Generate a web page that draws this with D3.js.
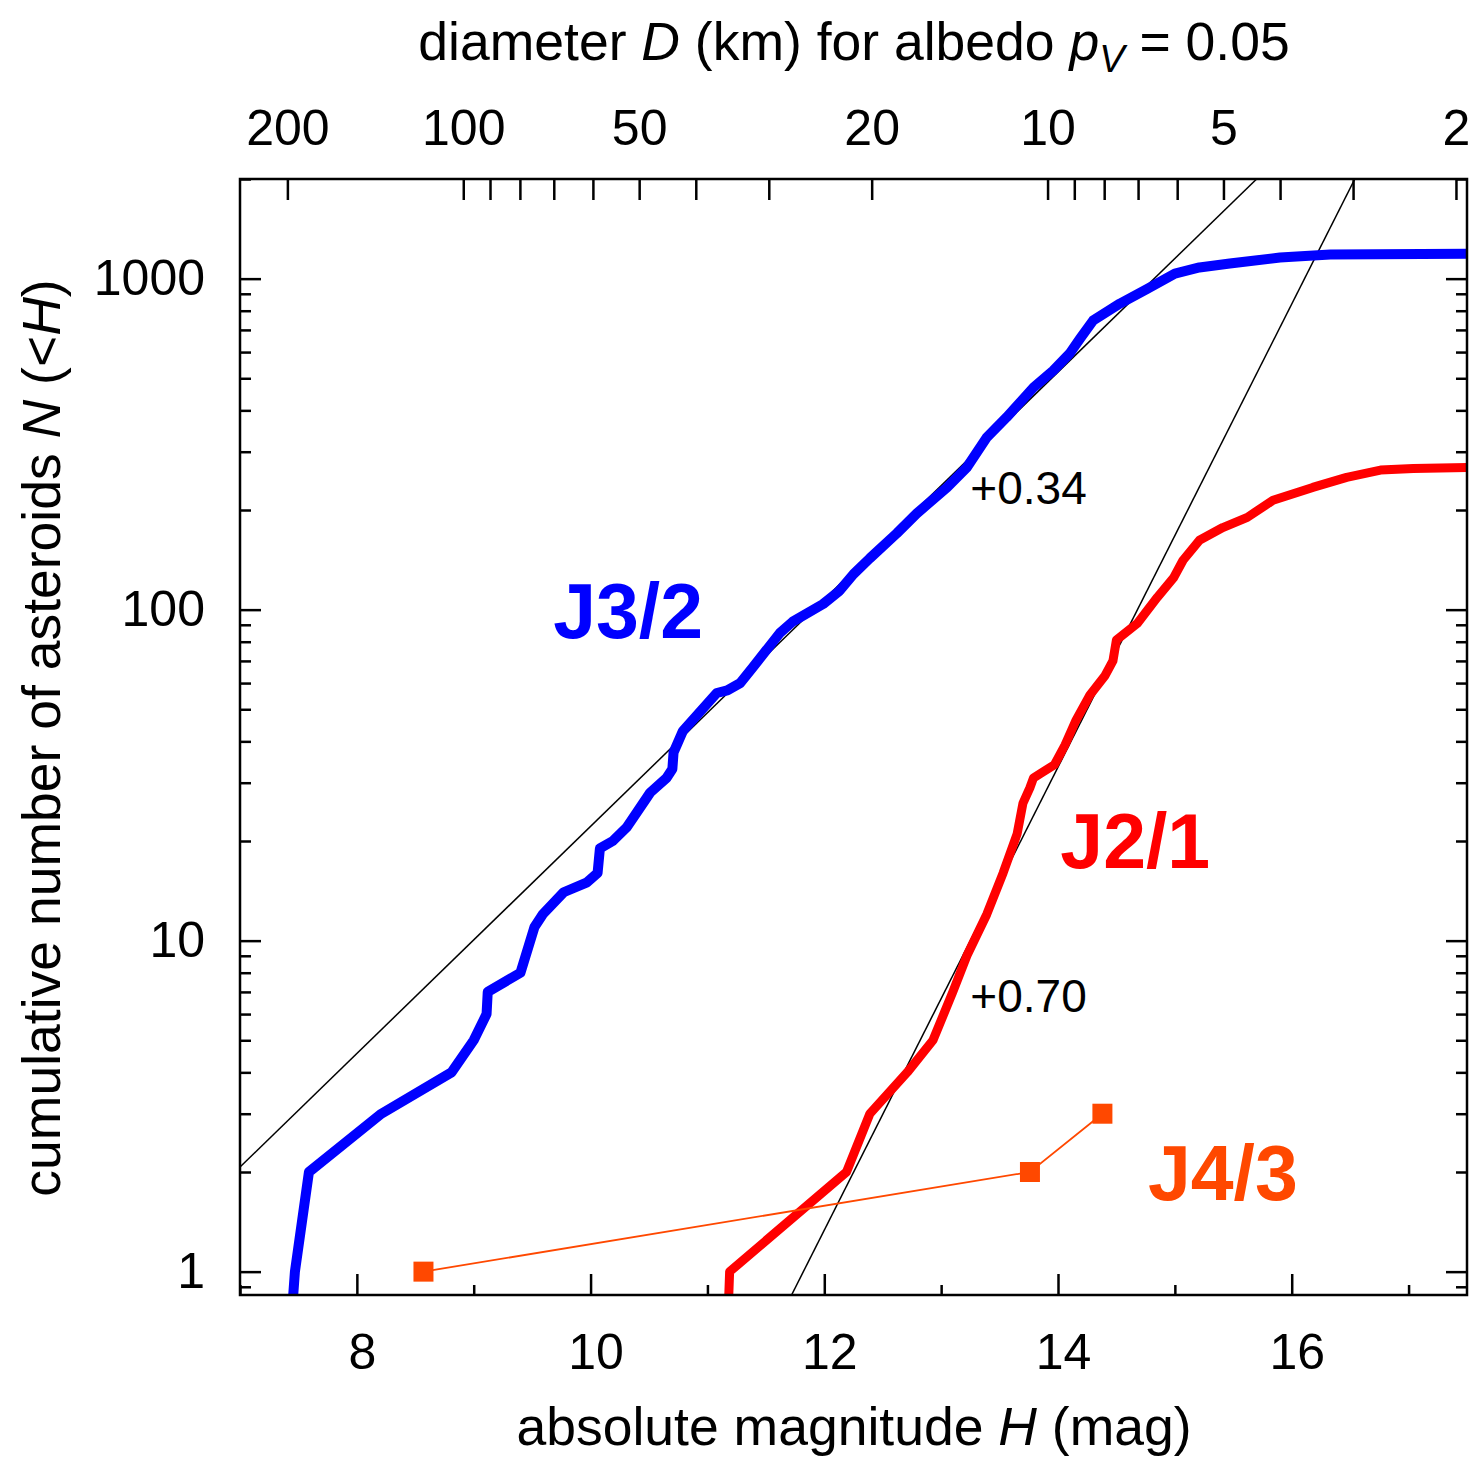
<!DOCTYPE html>
<html>
<head>
<meta charset="utf-8">
<script src="https://cdn.jsdelivr.net/npm/d3@7"></script>
<style>
body { margin: 0; background: #fff; }
svg { display: block; font-family: "Liberation Sans", Arial, Helvetica, sans-serif; }
</style>
</head>
<body>
<script>
// J3/2 cumulative distribution
var j32H = [7.45, 7.47, 7.59, 8.21, 8.81, 9.00, 9.11, 9.12, 9.40, 9.52, 9.59, 9.77, 9.97, 10.06, 10.08,
    10.19, 10.31, 10.48, 10.51, 10.65, 10.70, 10.71, 10.79, 11.08, 11.17, 11.28, 11.39, 11.62, 11.73,
    11.99, 12.13, 12.25, 12.39, 12.62, 12.79, 13.05, 13.22, 13.39, 13.56, 13.79, 13.96, 14.10, 14.19,
    14.30, 14.53, 14.76, 15.00, 15.21, 15.47, 15.90, 16.33, 17.50];
var j32N = [0.8, 1, 2, 3, 4, 5, 6, 7, 8, 11, 12, 14, 15, 16, 19,
    20, 22, 27, 28, 31, 33, 37, 43, 56, 57, 60, 67, 85, 92,
    104, 114, 128, 143, 170, 195, 234, 269, 331, 381, 469, 528, 594, 660,
    747, 841, 930, 1036, 1081, 1111, 1158, 1183, 1190];

// J2/1
var j21H = [11.18, 11.19, 12.19, 12.39, 12.71, 12.93, 13.10, 13.22, 13.39, 13.53, 13.65, 13.70, 13.76,
    13.79, 13.85, 13.97, 14.06, 14.15, 14.27, 14.40, 14.47, 14.50, 14.68, 14.85, 14.99, 15.07, 15.21,
    15.41, 15.62, 15.84, 16.18, 16.47, 16.76, 17.04, 17.50];
var j21N = [0.8, 1, 2, 3, 4, 5, 7, 9, 12, 16, 21, 26, 29,
    31, 32, 34, 39, 46, 55, 63, 70, 81, 91, 109, 125, 141, 162,
    177, 190, 214, 234, 251, 264, 267, 269];

// J4/3
var j43H = [8.57, 13.76, 14.38];
var j43N = [1, 2, 3];

// power-law fits, end points (H, N)
var fit034 = [[7.0, 2.07], [15.70, 2000]];
var fit070 = [[11.72, 0.85], [16.54, 2000]];
var fitLabels = ['+0.34', '+0.70'];

var xTicksMajor = [8, 10, 12, 14, 16];
var xTicksMinor = [7, 9, 11, 13, 15, 17];
var yTicksMajor = [1, 10, 100, 1000];
var yTicksMinor = [0.9, 2, 3, 4, 5, 6, 7, 8, 9, 20, 30, 40, 50, 60, 70, 80, 90,
    200, 300, 400, 500, 600, 700, 800, 900, 2000];
var pV = 0.05;
var dTicksMajor = [200, 100, 50, 20, 10, 5, 2];
var dTicksMinor = [90, 80, 70, 60, 40, 30, 9, 8, 7, 6, 4, 3];

const WIDTH = 1471;
const HEIGHT = 1459;
const LEFT = 240, RIGHT = 1467, TOP = 179, BOTTOM = 1295;

var zip = function(a, b) {
    return a.map(function(d, i) { return [d, b[i]]; });
};

var hToD = function(h) {
    return 1354 / Math.sqrt(pV) * Math.pow(10, -h / 5);
};

var svg = d3.select('body').append('svg')
    .attr('width', WIDTH)
    .attr('height', HEIGHT);

var x = d3.scaleLinear().domain([7, 17.5]).range([LEFT, RIGHT]);
var y = d3.scaleLog().domain([0.85, 2000]).range([BOTTOM, TOP]);
var dScale = d3.scaleLog().domain([hToD(7), hToD(17.5)]).range([LEFT, RIGHT]);

svg.append('clipPath').attr('id', 'plot')
    .append('rect')
    .attr('x', LEFT).attr('y', TOP)
    .attr('width', RIGHT - LEFT).attr('height', BOTTOM - TOP);

var styleAxis = function(g, size) {
    g.attr('font-family', null).attr('font-size', size);
    g.select('.domain').remove();
    g.selectAll('.tick line').attr('stroke', '#000').attr('stroke-width', 2.5);
    g.selectAll('.tick text').attr('fill', '#000');
};

// bottom axis
svg.append('g').attr('transform', 'translate(0,' + BOTTOM + ')')
    .call(d3.axisBottom(x).tickValues(xTicksMajor).tickSize(-21).tickPadding(38).tickFormat(d3.format('d')))
    .call(styleAxis, 50)
    .selectAll('.tick text').attr('dx', 5);
svg.append('g').attr('transform', 'translate(0,' + BOTTOM + ')')
    .call(d3.axisBottom(x).tickValues(xTicksMinor).tickSize(-10).tickFormat(''))
    .call(styleAxis, 50);

// top axis: diameter
svg.append('g').attr('transform', 'translate(0,' + TOP + ')')
    .call(d3.axisTop(dScale).tickValues(dTicksMajor).tickSize(-21).tickPadding(34).tickFormat(d3.format('d')))
    .call(styleAxis, 50);
svg.append('g').attr('transform', 'translate(0,' + TOP + ')')
    .call(d3.axisTop(dScale).tickValues(dTicksMinor).tickSize(-21).tickFormat(''))
    .call(styleAxis, 50);

// left and right axes
svg.append('g').attr('transform', 'translate(' + LEFT + ',0)')
    .call(d3.axisLeft(y).tickValues(yTicksMajor).tickSize(-21).tickPadding(35).tickFormat(d3.format('d')))
    .call(styleAxis, 50);
svg.append('g').attr('transform', 'translate(' + LEFT + ',0)')
    .call(d3.axisLeft(y).tickValues(yTicksMinor).tickSize(-11).tickFormat(''))
    .call(styleAxis, 50);
svg.append('g').attr('transform', 'translate(' + RIGHT + ',0)')
    .call(d3.axisRight(y).tickValues(yTicksMajor).tickSize(-21).tickFormat(''))
    .call(styleAxis, 50);
svg.append('g').attr('transform', 'translate(' + RIGHT + ',0)')
    .call(d3.axisRight(y).tickValues(yTicksMinor).tickSize(-11).tickFormat(''))
    .call(styleAxis, 50);

var line = d3.line()
    .x(function(d) { return x(d[0]); })
    .y(function(d) { return y(d[1]); });

var plot = svg.append('g').attr('clip-path', 'url(#plot)');

// fits
[fit034, fit070].forEach(function(f) {
    plot.append('path').attr('d', line(f))
        .attr('fill', 'none').attr('stroke', '#000').attr('stroke-width', 1.5);
});

plot.append('path').attr('d', line(zip(j32H, j32N)))
    .attr('fill', 'none').attr('stroke', '#0000ff').attr('stroke-width', 10)
    .attr('stroke-linejoin', 'round');
plot.append('path').attr('d', line(zip(j21H, j21N)))
    .attr('fill', 'none').attr('stroke', '#ff0000').attr('stroke-width', 9)
    .attr('stroke-linejoin', 'round');

var j43 = zip(j43H, j43N);
plot.append('path').attr('d', line(j43))
    .attr('fill', 'none').attr('stroke', '#ff4800').attr('stroke-width', 1.8);
plot.selectAll('rect.j43').data(j43).enter().append('rect')
    .classed('j43', true)
    .attr('x', function(d) { return x(d[0]) - 10; })
    .attr('y', function(d) { return y(d[1]) - 10; })
    .attr('width', 20).attr('height', 20)
    .attr('fill', '#ff4800');

// frame
svg.append('rect')
    .attr('x', LEFT).attr('y', TOP)
    .attr('width', RIGHT - LEFT).attr('height', BOTTOM - TOP)
    .attr('fill', 'none').attr('stroke', '#000').attr('stroke-width', 2.5);

// labels
var addLabel = function(t, h, n, color, size, weight) {
    svg.append('text').attr('x', x(h)).attr('y', y(n))
        .attr('fill', color).attr('font-size', size).attr('font-weight', weight)
        .text(t);
};
addLabel('J3/2', 9.68, 82, '#0000ff', 77, 'bold');
addLabel('J2/1', 14.02, 16.6, '#ff0000', 77, 'bold');
addLabel('J4/3', 14.77, 1.65, '#ff4800', 77, 'bold');
addLabel(fitLabels[0], 13.25, 209, '#000', 46, 'normal');
addLabel(fitLabels[1], 13.25, 6.1, '#000', 46, 'normal');

// axis titles
var xt = svg.append('text').attr('x', 854).attr('y', 1445)
    .attr('text-anchor', 'middle').attr('font-size', 53.5);
xt.append('tspan').text('absolute magnitude ');
xt.append('tspan').attr('font-style', 'italic').text('H');
xt.append('tspan').text(' (mag)');

var tt = svg.append('text').attr('x', 854).attr('y', 60)
    .attr('text-anchor', 'middle').attr('font-size', 53.5);
tt.append('tspan').text('diameter ');
tt.append('tspan').attr('font-style', 'italic').text('D');
tt.append('tspan').text(' (km) for albedo ');
tt.append('tspan').attr('font-style', 'italic').text('p');
tt.append('tspan').attr('font-style', 'italic').attr('font-size', 38).attr('dy', 12).text('V');
tt.append('tspan').attr('dy', -12).text(' = 0.05');

var yt = svg.append('text')
    .attr('transform', 'translate(60,738) rotate(-90)')
    .attr('text-anchor', 'middle').attr('font-size', 53.5);
yt.append('tspan').text('cumulative number of asteroids ');
yt.append('tspan').attr('font-style', 'italic').text('N');
yt.append('tspan').text(' (<');
yt.append('tspan').attr('font-style', 'italic').text('H');
yt.append('tspan').text(')');
</script>
</body>
</html>
